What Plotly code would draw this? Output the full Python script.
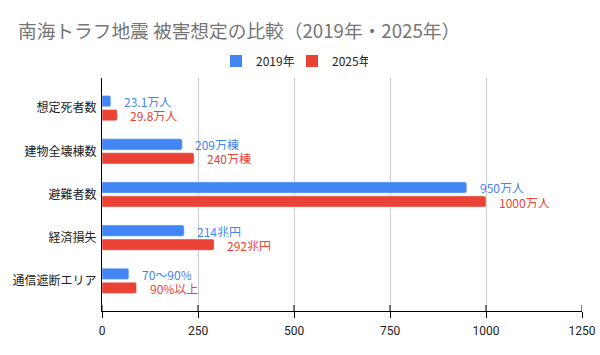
import plotly.graph_objects as go

categories = ["想定死者数", "建物全壊棟数", "避難者数", "経済損失", "通信遮断エリア"]
values_2019 = [23.1, 209, 950, 214, 70]
values_2025 = [40, 240, 1000, 292, 90]
labels_2019 = ["23.1万人", "209万棟", "950万人", "214兆円", "70〜90%"]
labels_2025 = ["29.8万人", "240万棟", "1000万人", "292兆円", "90%以上"]
series_names = ["2019年", "2025年"]
x_ticks = [0, 250, 500, 750, 1000, 1250]

BLUE = "#4285F4"
RED = "#EA4335"
FONT = "Noto Sans CJK JP"
BARGAP = 0.35
PLOT_H = 355 - 78 - 44

fig = go.Figure()
fig.add_trace(go.Bar(y=categories, x=values_2019, name=series_names[0], orientation="h",
                     marker=dict(color=BLUE, cornerradius=2), showlegend=False))
fig.add_trace(go.Bar(y=categories, x=values_2025, name=series_names[1], orientation="h",
                     marker=dict(color=RED, cornerradius=2), showlegend=False))
# legend entries with larger square swatches
for name, col in zip(series_names, [BLUE, RED]):
    fig.add_trace(go.Scatter(x=[None], y=[None], mode="markers", name=name,
                             marker=dict(symbol="square", size=12, color=col),
                             showlegend=True))

off = (1 - BARGAP) / 4
for i, (v, t) in enumerate(zip(values_2019, labels_2019)):
    fig.add_annotation(x=v, y=i - off, text=t, showarrow=False, xanchor="left",
                       xshift=11, height=12, yanchor="middle",
                       font=dict(color=BLUE, size=12, family=FONT))
for i, (v, t) in enumerate(zip(values_2025, labels_2025)):
    fig.add_annotation(x=v, y=i + off, text=t, showarrow=False, xanchor="left",
                       xshift=11, height=12, yanchor="middle",
                       font=dict(color=RED, size=12, family=FONT))

# inner half of the tick marks (ticks cross the axis line)
for t in x_ticks:
    fig.add_shape(type="line", xref="x", yref="paper", x0=t, x1=t, y0=0, y1=6 / PLOT_H,
                  line=dict(color="#000000", width=1))

fig.update_layout(
    width=600, height=355,
    margin=dict(l=102, r=18, t=78, b=44, autoexpand=False),
    paper_bgcolor="white", plot_bgcolor="white",
    barmode="group", bargap=BARGAP, bargroupgap=0.2,
    font=dict(family=FONT, size=12, color="#222222"),
    title=dict(text="南海トラフ地震 被害想定の比較（2019年・2025年）",
               x=18 / 600, xanchor="left", xref="container",
               y=1 - 31 / 355, yanchor="middle", yref="container",
               font=dict(size=18.7, color="#757575", family=FONT)),
    legend=dict(orientation="h", x=0.5 - 8 / 600, xanchor="center", xref="container",
                y=1 - 61 / 355, yanchor="middle", yref="container",
                font=dict(size=12, color="#222222", family=FONT),
                itemwidth=30, entrywidth=31, traceorder="normal", tracegroupgap=0),
    showlegend=True,
)
fig.update_xaxes(range=[0, 1250], tickvals=x_ticks, showgrid=True, gridcolor="#cccccc",
                 showline=True, linecolor="#000000", linewidth=1,
                 ticks="outside", ticklen=6, tickcolor="#000000", ticklabelstandoff=3,
                 zeroline=False, tickfont=dict(family="Roboto", size=12, color="#222222"))
fig.update_yaxes(range=[4.7, -0.7], showline=True, linecolor="#000000", linewidth=1,
                 showgrid=False, zeroline=False, ticks="", ticklabelstandoff=2,
                 tickfont=dict(size=12, color="#222222", family=FONT))

fig.write_html("out.html", config={"displayModeBar": False},
               post_script="document.body.style.margin='0';")
